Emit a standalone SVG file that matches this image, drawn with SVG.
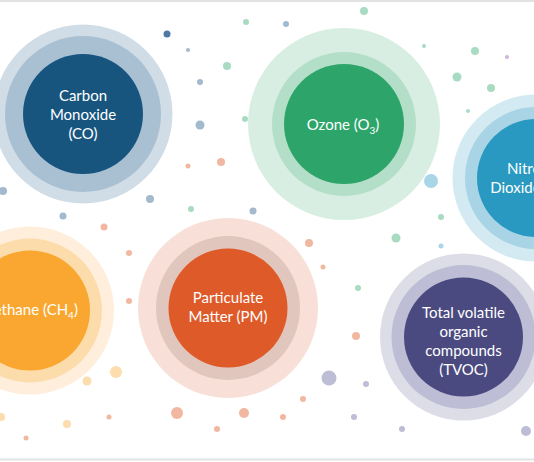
<svg xmlns="http://www.w3.org/2000/svg" width="534" height="462" viewBox="0 0 534 462">
<style>
.t{font-family:Lato,"Open Sans","Liberation Sans",sans-serif;font-size:15px;fill:#ffffff;text-anchor:middle}
.db{fill:#4f79a5}.bl{fill:#a3b9ce}.gr{fill:#a8dbc2}.or{fill:#f2b7a1}.ye{fill:#fddcae}.pu{fill:#bdbdd6}.lb{fill:#a9d6e7}.vi{fill:#d2b3de}
</style>
<rect width="534" height="462" fill="#ffffff"/>
<line x1="0" y1="1" x2="534" y2="1" stroke="#d9d9d9" stroke-width="1.5"/>
<line x1="0" y1="459.5" x2="534" y2="459.5" stroke="#e3e3e3" stroke-width="2"/>
<g id="dots">
<circle class="gr" cx="246" cy="22" r="3"/>
<circle class="db" cx="167" cy="34" r="3.5"/>
<circle class="bl" cx="188" cy="50" r="2"/>
<circle class="gr" cx="227" cy="66" r="4"/>
<circle class="bl" cx="200" cy="82" r="3"/>
<circle class="gr" cx="245" cy="119" r="3"/>
<circle class="bl" cx="200" cy="125" r="4.5"/>
<circle class="or" cx="188" cy="166" r="2.5"/>
<circle class="or" cx="221" cy="162" r="4"/>
<circle class="bl" cx="3" cy="191" r="4"/>
<circle class="bl" cx="150" cy="199" r="4"/>
<circle class="gr" cx="191" cy="209" r="3"/>
<circle class="bl" cx="253" cy="211" r="3.5"/>
<circle class="bl" cx="63" cy="216" r="3.5"/>
<circle class="or" cx="104" cy="227" r="3.5"/>
<circle class="gr" cx="364" cy="11" r="4"/>
<circle class="bl" cx="286" cy="24" r="3"/>
<circle class="gr" cx="424" cy="46" r="2"/>
<circle class="gr" cx="475" cy="51" r="4"/>
<circle class="vi" cx="507" cy="57" r="2"/>
<circle class="gr" cx="457" cy="77" r="4.5"/>
<circle class="gr" cx="491" cy="88" r="4"/>
<circle class="gr" cx="468" cy="111" r="2"/>
<circle class="lb" cx="431" cy="181" r="7"/>
<circle class="gr" cx="441" cy="217" r="3"/>
<circle class="or" cx="129" cy="253" r="3"/>
<circle class="or" cx="129" cy="301" r="3"/>
<circle class="ye" cx="116" cy="372" r="6"/>
<circle class="ye" cx="87" cy="381" r="4.5"/>
<circle class="ye" cx="1" cy="417" r="4"/>
<circle class="ye" cx="67" cy="424" r="4"/>
<circle class="or" cx="109" cy="417" r="2.5"/>
<circle class="or" cx="26" cy="438" r="2.5"/>
<circle class="or" cx="177" cy="413" r="6"/>
<circle class="or" cx="244" cy="413" r="5"/>
<circle class="or" cx="217" cy="429" r="3"/>
<circle class="or" cx="309" cy="243" r="4"/>
<circle class="gr" cx="396" cy="238" r="4.5"/>
<circle class="lb" cx="441" cy="246" r="2.5"/>
<circle class="or" cx="323" cy="267" r="2.5"/>
<circle class="gr" cx="358" cy="288" r="3"/>
<circle class="or" cx="356" cy="336" r="4"/>
<circle class="pu" cx="329" cy="378" r="7.5"/>
<circle class="pu" cx="366" cy="384" r="3"/>
<circle class="or" cx="303" cy="399" r="3"/>
<circle class="or" cx="283" cy="417" r="3"/>
<circle class="pu" cx="354" cy="417" r="3"/>
<circle class="pu" cx="402" cy="429" r="3"/>
<circle class="pu" cx="526" cy="431" r="5"/>
</g>
<g id="connectors"/>
<g id="co">
<circle cx="83" cy="114" r="89.5" fill="#d0dde7"/>
<circle cx="83" cy="114" r="78" fill="#a9c0d3"/>
<circle cx="83" cy="114" r="60" fill="#17557f"/>
<text class="t" x="83" y="101">Carbon</text>
<text class="t" x="83" y="120">Monoxide</text>
<text class="t" x="83" y="139">(CO)</text>
</g>
<g id="ozone">
<circle cx="344" cy="124" r="96" fill="#d8eee3"/>
<circle cx="344" cy="124" r="72" fill="#b3dfc9"/>
<circle cx="344" cy="124" r="60" fill="#2da56a"/>
<text class="t" x="343" y="130">Ozone (O<tspan font-size="10" dy="4">3</tspan><tspan dy="-4">)</tspan></text>
</g>
<g id="no2">
<circle cx="536" cy="178" r="83.5" fill="#d3eaf2"/>
<circle cx="536" cy="178" r="71" fill="#a8d4e5"/>
<circle cx="536" cy="178" r="59" fill="#2a99c1"/>
<text class="t" x="536" y="174">Nitrogen</text>
<text class="t" x="536" y="193">Dioxide (NO<tspan font-size="10" dy="4">2</tspan><tspan dy="-4">)</tspan></text>
</g>
<g id="methane">
<circle cx="30" cy="310.5" r="84" fill="#feeedb"/>
<circle cx="30" cy="310.5" r="72" fill="#fddcab"/>
<circle cx="30" cy="310.5" r="60" fill="#f9a731"/>
<text class="t" x="29" y="315">Methane (CH<tspan font-size="10" dy="4">4</tspan><tspan dy="-4">)</tspan></text>
</g>
<g id="pm">
<circle cx="228" cy="308" r="90" fill="#f8dfd7"/>
<circle cx="228" cy="308" r="72" fill="#e0c6bd"/>
<circle cx="228" cy="308" r="59.5" fill="#df5a29"/>
<text class="t" x="228" y="303">Particulate</text>
<text class="t" x="228" y="322">Matter (PM)</text>
</g>
<g id="tvoc">
<circle cx="463.5" cy="337" r="83.5" fill="#dddde8"/>
<circle cx="463.5" cy="337" r="72" fill="#bdbdd5"/>
<circle cx="463.5" cy="337" r="59.5" fill="#4b4a80"/>
<text class="t" x="463.5" y="318">Total volatile</text>
<text class="t" x="463.5" y="337">organic</text>
<text class="t" x="463.5" y="356">compounds</text>
<text class="t" x="463.5" y="375">(TVOC)</text>
</g>
</svg>
